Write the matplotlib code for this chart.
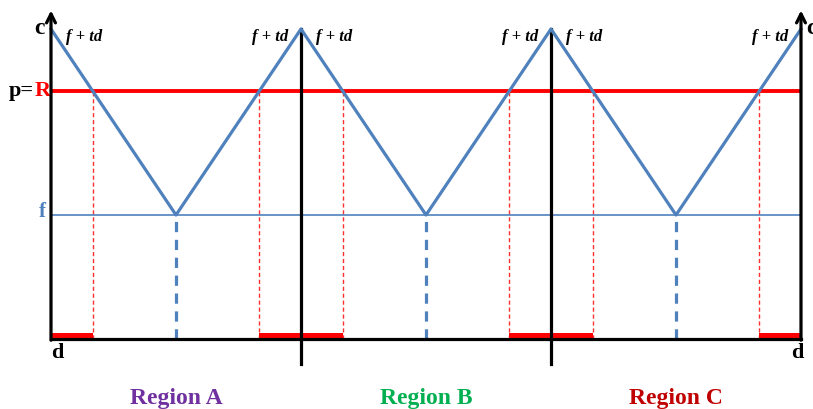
import matplotlib
matplotlib.use('agg')
import matplotlib.pyplot as plt
import numpy as np

# diagram levels (fraction of c)
level_c = 1.0
level_R = 0.8
level_f = 0.4
# peaks of the f+td curve and the valleys between them
peak_x = [0, 1, 2, 3]
valley_x = [0.5, 1.5, 2.5]
region_names = ['Region A', 'Region B', 'Region C']
region_colors = ['#7030A0', '#00B050', '#C00000']

BLUE = '#4F81BD'

fig = plt.figure(figsize=(8.13, 4.09), dpi=100)
ax = fig.add_axes([51/813, 70/409, 750/813, 310/409])
ax.set_xlim(0, 3)
ax.set_ylim(0, 1)
ax.axis('off')

# zig-zag curve
xs, ys = [], []
for i, p in enumerate(peak_x):
    xs.append(p); ys.append(level_c)
    if i < len(valley_x):
        xs.append(valley_x[i]); ys.append(level_f)
ax.plot(xs, ys, color=BLUE, lw=2.3, zorder=4, clip_on=False)

# horizontal levels
ax.plot([0, 3], [level_R, level_R], color='#FF0000', lw=2.8, zorder=3)
ax.plot([0, 3], [level_f, level_f], color=BLUE, lw=1.2, zorder=2)

# crossings of the curve with R
slope = (level_c - level_f) / 0.5
cross = []
for v in valley_x:
    dx = (level_R - level_f) / slope
    cross.append((v - dx, v + dx))

for a, b in cross:
    for xc in (a, b):
        ax.plot([xc, xc], [0, level_R], color='#FF3030', lw=1.0, ls=(0, (3, 2)), zorder=1)

for v in valley_x:
    ax.plot([v, v], [0, level_f], color=BLUE, lw=2.3, ls=(0, (3.2, 2.4)), zorder=1)

# red intervals on the d axis
starts = [0] + [b for a, b in cross]
ends = [a for a, b in cross] + [3]
for s, e in zip(starts, ends):
    ax.bar(s, 0.018, width=e - s, bottom=0.001, align='edge', color='#FF0000', zorder=3, clip_on=False)

# axes
ax.plot([0, 3], [0, 0], color='black', lw=2.3, zorder=5, clip_on=False)
for xa in (0, 3):
    ax.annotate('', xy=(xa, 1.06), xytext=(xa, -0.004), zorder=6, annotation_clip=False,
                arrowprops=dict(arrowstyle='->', lw=2.3, color='black', mutation_scale=16,
                                shrinkA=0, shrinkB=0))
for xm in (1, 2):
    ax.plot([xm, xm], [-0.08, level_c], color='black', lw=2.3, zorder=3, clip_on=False)

# labels
serif = dict(family='Liberation Serif', weight='bold')
ax.text(-0.024, 1.0, 'c', ha='right', va='center', fontsize=17, **serif)
ax.text(3.022, 1.0, 'c', ha='left', va='center', fontsize=17, **serif)
ax.text(-0.067, level_R, 'p=', ha='right', va='center', fontsize=16, **serif)
ax.text(-0.067, level_R, 'R', ha='left', va='center', fontsize=16, color='#FF0000', **serif)
ax.text(-0.022, 0.41, 'f', ha='right', va='center', fontsize=15, color=BLUE, **serif)
ax.text(0.0, -0.045, 'd', ha='left', va='center', fontsize=16, **serif)
ax.text(2.985, -0.045, 'd', ha='center', va='center', fontsize=16, **serif)

for p in peak_x:
    if p > 0:
        ax.text(p - 0.05, 0.975, 'f + td', ha='right', va='center', fontsize=12,
                style='italic', **serif)
    if p < 3:
        ax.text(p + 0.06, 0.975, 'f + td', ha='left', va='center', fontsize=12,
                style='italic', **serif)

for v, name, col in zip(valley_x, region_names, region_colors):
    ax.text(v, -0.193, name, ha='center', va='center', fontsize=17, color=col, clip_on=False, **serif)

plt.savefig('out.png', dpi=100)
